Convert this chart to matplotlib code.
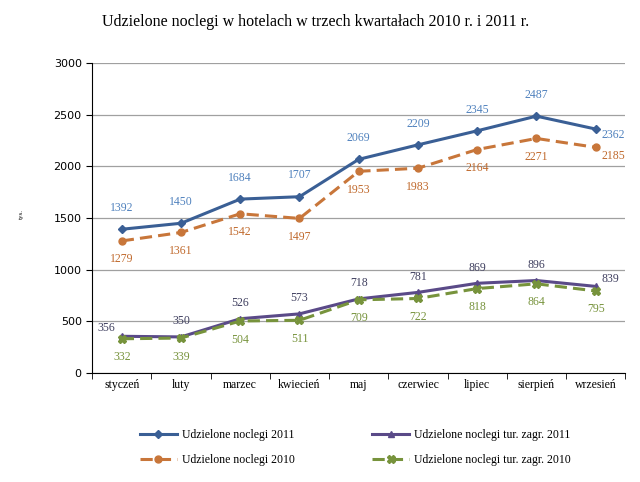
import matplotlib.pyplot as plt
import numpy as np

months = ['styczeń', 'luty', 'marzec', 'kwiecień', 'maj', 'czerwiec', 'lipiec', 'sierpień', 'wrzesień']
noclegi_2011 = [1392, 1450, 1684, 1707, 2069, 2209, 2345, 2487, 2362]
noclegi_2010 = [1279, 1361, 1542, 1497, 1953, 1983, 2164, 2271, 2185]
zagr_2011 = [356, 350, 526, 573, 718, 781, 869, 896, 839]
zagr_2010 = [332, 339, 504, 511, 709, 722, 818, 864, 795]

serif = 'Liberation Serif'

fig = plt.figure(figsize=(6.4, 4.82), dpi=100)
ax = fig.add_axes([0.144, 0.226, 0.833, 0.643])
x = np.arange(len(months))

l1, = ax.plot(x, noclegi_2011, color='#3A5F95', lw=2.2, marker='D', ms=4, label='Udzielone noclegi 2011')
l2, = ax.plot(x, noclegi_2010, color='#C8763A', lw=2.2, ls=(0, (4, 2)), marker='o', ms=5, label='Udzielone noclegi 2010')
l3, = ax.plot(x, zagr_2011, color='#5A4A88', lw=2.2, marker='^', ms=5, label='Udzielone noclegi tur. zagr. 2011')
l4, = ax.plot(x, zagr_2010, color='#77933C', lw=2.2, ls=(0, (4, 2)), marker='X', ms=6, label='Udzielone noclegi tur. zagr. 2010')

last = len(months) - 1


def label(val, xi, dx, dy, ha, va, color):
    ax.annotate(str(val), (xi, val), xytext=(dx, dy), textcoords='offset points',
                ha=ha, va=va, fontsize=8.5, color=color, family=serif)


for i in range(len(months)):
    if i == last:
        label(noclegi_2011[i], x[i], 4, -4, 'left', 'center', '#4F81BD')
        label(noclegi_2010[i], x[i], 4, -6, 'left', 'center', '#C0692C')
        label(zagr_2011[i], x[i], 4, 5, 'left', 'center', '#3F3F5F')
    else:
        label(noclegi_2011[i], x[i], 0, 11, 'center', 'bottom', '#4F81BD')
        label(noclegi_2010[i], x[i], 0, -9, 'center', 'top', '#C0692C')
        if i == 0:
            label(zagr_2011[i], x[i], -5, 6, 'right', 'center', '#3F3F5F')
        else:
            label(zagr_2011[i], x[i], 0, 7, 'center', 'bottom', '#3F3F5F')
    label(zagr_2010[i], x[i], 0, -9, 'center', 'top', '#77933C')

ax.set_xlim(-0.5, len(months) - 0.5)
ax.set_ylim(0, 3000)
ax.set_yticks(range(0, 3001, 500))
ax.tick_params(axis='y', labelsize=8, length=4, direction='out')
ax.set_xticks(x)
ax.set_xticklabels(months, family=serif, fontsize=8.5)
ax.tick_params(axis='x', length=0, pad=4)
ax.set_xticks(np.arange(-0.5, len(months), 1), minor=True)
ax.tick_params(axis='x', which='minor', length=4, direction='out')
ax.grid(axis='y', color='#A0A0A0', lw=0.9)
ax.set_axisbelow(True)
for s in ['top', 'right']:
    ax.spines[s].set_visible(False)
ax.spines['left'].set_color('black')
ax.spines['bottom'].set_color('black')

fig.text(0.493, 0.955, 'Udzielone noclegi w hotelach w trzech kwartałach 2010 r. i 2011 r.',
         ha='center', va='center', fontsize=11.5, family=serif)
fig.text(0.033, 0.555, 'tys.', rotation=90, ha='center', va='center', fontsize=5, family=serif)

fig.legend(handles=[l1, l2, l3, l4], loc='center', bbox_to_anchor=(0.555, 0.071), ncol=2,
           frameon=False, prop={'family': serif, 'size': 8.5}, columnspacing=6.5,
           handlelength=3.2, handletextpad=0.4, labelspacing=1.1)

fig.savefig('out.png', dpi=100)
